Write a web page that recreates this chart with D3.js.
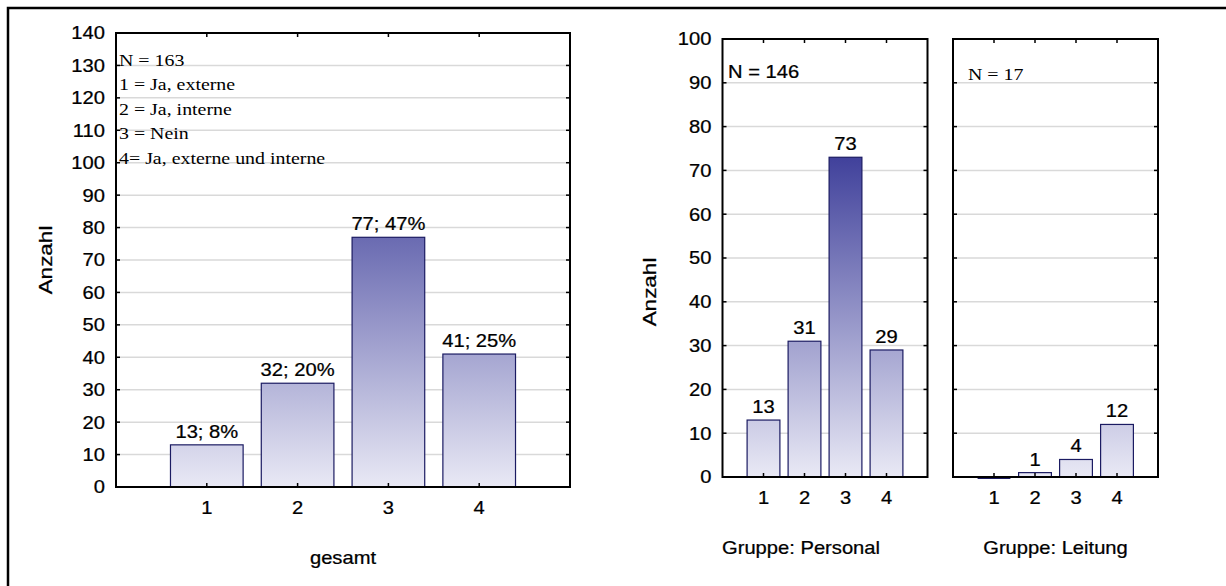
<!DOCTYPE html>
<html>
<head>
<meta charset="utf-8">
<script src="https://cdn.jsdelivr.net/npm/d3@7"></script>
<style>
  html, body { margin: 0; padding: 0; background: #fff; }
  svg { display: block; }
</style>
</head>
<body>
<svg id="chart" width="1226" height="586"></svg>
<script>
// Categories and counts for the three panels
const categories = [1, 2, 3, 4];
const gesamtCounts = [13, 32, 77, 41];
const gesamtPercent = [8, 20, 47, 25];
const personalCounts = [13, 31, 73, 29];
const leitungCounts = [0, 1, 4, 12];

const gesamtTicks = [0, 10, 20, 30, 40, 50, 60, 70, 80, 90, 100, 110, 120, 130, 140];
const gruppeTicks = [0, 10, 20, 30, 40, 50, 60, 70, 80, 90, 100];

const legendLines = ["N = 163", "1 = Ja, externe", "2 = Ja, interne", "3 = Nein", "4= Ja, externe und interne"];

const svg = d3.select("#chart");
const SANS = "'Liberation Sans', Arial, sans-serif";
const SERIF = "'Liberation Serif', 'Times New Roman', serif";
const SX = 1.12; // horizontal stretch of the lettering
const FS = 18;

// outer frame
svg.append("rect")
  .attr("x", 8).attr("y", 8).attr("width", 1240).attr("height", 620)
  .attr("fill", "none").attr("stroke", "#000").attr("stroke-width", 2.5);

const defs = svg.append("defs");

function txt(parent, x, y, s, o = {}) {
  const t = parent.append("text")
    .attr("transform", `translate(${x},${y})${o.rotate ? ` rotate(${o.rotate})` : ""} scale(${o.sx || SX},1)`)
    .attr("text-anchor", o.anchor || "start")
    .attr("font-family", o.family || SANS)
    .attr("font-size", o.size || FS)
    .attr("fill", "#000")
    .attr("stroke", o.family === SERIF ? "none" : "#000")
    .attr("stroke-width", 0.25)
    .text(s);
  if (o.dy) t.attr("dy", o.dy);
  return t;
}

function panel(cfg) {
  const { id, left, right, top, bottom, ymax, ticks, values, labels, title, ytitle } = cfg;
  const x = d3.scaleLinear().domain([0, 5]).range([left, right]);
  const y = d3.scaleLinear().domain([0, ymax]).range([bottom, top]);
  const step = x(1) - x(0);
  const bw = step * 0.8;
  const g = svg.append("g");

  // gradient spans the whole value range of the panel
  const grad = defs.append("linearGradient")
    .attr("id", "grad-" + id)
    .attr("gradientUnits", "userSpaceOnUse")
    .attr("x1", 0).attr("x2", 0)
    .attr("y1", y(0)).attr("y2", y(ymax));
  grad.append("stop").attr("offset", 0).attr("stop-color", "#e9e9f5");
  grad.append("stop").attr("offset", 1).attr("stop-color", "#02037a");

  // horizontal grid
  g.selectAll(".grid").data(ticks.filter(v => v > 0 && v < ymax)).join("line")
    .attr("x1", left).attr("x2", right)
    .attr("y1", d => y(d)).attr("y2", d => y(d))
    .attr("stroke", "#d9d9d9").attr("stroke-width", 1.5);

  // plot frame
  g.append("rect")
    .attr("x", left).attr("y", top).attr("width", right - left).attr("height", bottom - top)
    .attr("fill", "none").attr("stroke", "#000").attr("stroke-width", 2);

  // bars
  g.selectAll(".bar").data(values).join("rect")
    .attr("x", (d, i) => x(categories[i]) - bw / 2)
    .attr("width", bw)
    .attr("y", d => y(d))
    .attr("height", d => y(0) - y(d))
    .attr("fill", `url(#grad-${id})`)
    .attr("stroke", "#1b1b62").attr("stroke-width", 1.2);

  // value labels
  values.forEach((v, i) => {
    if (labels[i] !== null) {
      txt(g, x(categories[i]), y(v) - 7, labels[i], { anchor: "middle" });
    }
  });

  // ticks (pointing inward)
  const tl = 4;
  ticks.forEach(v => {
    g.append("line").attr("x1", left).attr("x2", left + tl).attr("y1", y(v)).attr("y2", y(v))
      .attr("stroke", "#000").attr("stroke-width", 1.5);
    g.append("line").attr("x1", right).attr("x2", right - tl).attr("y1", y(v)).attr("y2", y(v))
      .attr("stroke", "#000").attr("stroke-width", 1.5);
  });
  categories.forEach(c => {
    g.append("line").attr("x1", x(c)).attr("x2", x(c)).attr("y1", top).attr("y2", top + tl)
      .attr("stroke", "#000").attr("stroke-width", 1.5);
    g.append("line").attr("x1", x(c)).attr("x2", x(c)).attr("y1", bottom).attr("y2", bottom - tl)
      .attr("stroke", "#000").attr("stroke-width", 1.5);
  });

  // bottom axis line drawn over the bar bases
  g.append("line").attr("x1", left).attr("x2", right).attr("y1", bottom).attr("y2", bottom)
    .attr("stroke", "#000").attr("stroke-width", 2);

  // zero-height bars show as a thin line just under the axis
  values.forEach((v, i) => {
    if (v === 0) {
      g.append("line")
        .attr("x1", x(categories[i]) - bw / 2).attr("x2", x(categories[i]) + bw / 2)
        .attr("y1", y(0) + 1.5).attr("y2", y(0) + 1.5)
        .attr("stroke", "#1b1b62").attr("stroke-width", 1.2);
    }
  });

  // y tick labels
  if (cfg.showY) {
    ticks.forEach(v => {
      txt(g, left - 11, y(v), String(v), { anchor: "end", dy: "0.36em" });
    });
  }

  // x tick labels
  categories.forEach(c => {
    txt(g, x(c), bottom + 27, String(c), { anchor: "middle" });
  });

  // axis titles
  txt(g, cfg.titleX !== undefined ? cfg.titleX : (left + right) / 2, bottom + 77, title, { anchor: "middle" });
  if (ytitle) {
    txt(g, ytitle.x, ytitle.y, "Anzahl", { anchor: "middle", rotate: -90, size: 18, sx: 1.25 });
  }
  return { g, x, y };
}

// Panel: gesamt
const p1 = panel({
  id: "gesamt", left: 116, right: 570, top: 33, bottom: 487, ymax: 140,
  ticks: gesamtTicks, values: gesamtCounts,
  labels: gesamtCounts.map((v, i) => `${v}; ${gesamtPercent[i]}%`),
  title: "gesamt", showY: true, ytitle: { x: 52, y: 260 }
});
legendLines.forEach((s, i) => {
  txt(p1.g, 119, 65.5 + i * 24.5, s, { family: SERIF, size: 17, sx: 1.17 });
});

// Panel: Gruppe Personal
const p2 = panel({
  id: "personal", left: 722.5, right: 927.5, top: 39, bottom: 477, ymax: 100,
  ticks: gruppeTicks, values: personalCounts,
  labels: personalCounts.map(v => String(v)),
  title: "Gruppe: Personal", titleX: 801, showY: true, ytitle: { x: 656, y: 292 }
});
txt(p2.g, 728, 78, "N = 146");

// Panel: Gruppe Leitung
const p3 = panel({
  id: "leitung", left: 953, right: 1158, top: 39, bottom: 477, ymax: 100,
  ticks: gruppeTicks, values: leitungCounts,
  labels: leitungCounts.map(v => v > 0 ? String(v) : null),
  title: "Gruppe: Leitung", showY: false
});
txt(p3.g, 968, 80, "N = 17", { family: SERIF, size: 17, sx: 1.17 });
</script>
</body>
</html>
